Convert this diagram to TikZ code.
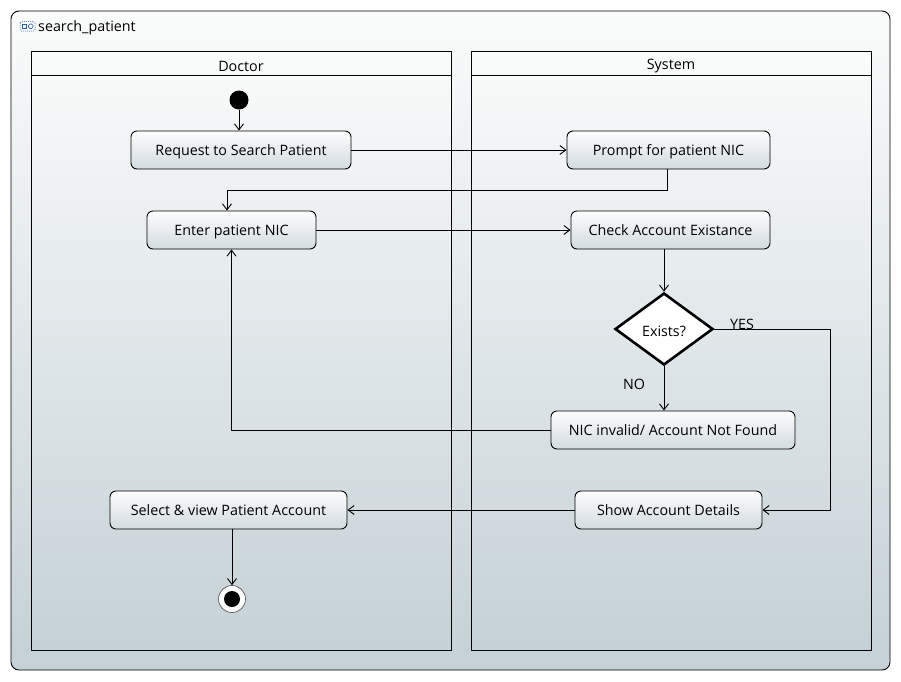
\documentclass[tikz,border=0pt]{standalone}
\usepackage{fontspec}
\setmainfont{Open Sans}
\usetikzlibrary{arrows.meta,shapes.geometric}
\definecolor{bgtop}{RGB}{250,251,251}
\definecolor{bgbot}{RGB}{197,209,214}
\definecolor{acttop}{RGB}{253,253,253}
\definecolor{actbot}{RGB}{210,219,223}
\definecolor{iconblue}{RGB}{40,90,170}
\tikzset{
  txt/.style={font=\fontsize{14.3}{16}\selectfont},
  act/.style={draw=black, rounded corners=6pt, minimum height=38pt, line width=0.9pt,
    top color=acttop, bottom color=actbot, txt, inner xsep=0pt,
    text height=13pt, text depth=2pt},
  flow/.style={draw=black, line width=0.9pt, -{Straight Barb[length=6pt,width=9pt]}},
  lbl/.style={txt, inner sep=0pt}
}
\begin{document}
\begin{tikzpicture}[x=1pt,y=-1pt]
\useasboundingbox (0,0) rectangle (901,681);
% outer frame
\shade[top color=bgtop, bottom color=bgbot, rounded corners=8pt] (11,11) rectangle (890,670);
\draw[line width=0.9pt, rounded corners=8pt] (11,11) rectangle (890,670);
% frame icon and title
\draw[line width=0.5pt, draw=iconblue, dash pattern=on 1pt off 1pt, rounded corners=1.5pt] (20,21.5) rectangle (35,31);
\draw[line width=0.6pt, draw=iconblue] (22,24) rectangle (26.5,28.5);
\draw[line width=0.6pt, draw=iconblue, rounded corners=1.5pt] (28.5,24) rectangle (33,28.5);
\node[anchor=west, lbl] (title) at (38,28) {search\_patient};
% swimlanes
\shade[top color=bgtop, bottom color=bgbot] (31,51) rectangle (451,650);
\draw[line width=0.9pt] (31,51) rectangle (451,650);
\draw[line width=0.9pt] (31,75) -- (451,75);
\node[lbl] (doctor) at (241,66) {Doctor};
\shade[top color=bgtop, bottom color=bgbot] (471,51) rectangle (871,650);
\draw[line width=0.9pt] (471,51) rectangle (871,650);
\draw[line width=0.9pt] (471,75) -- (871,75);
\node[lbl] (system) at (671,66) {System};
% actions
\node[circle, fill=black, minimum size=19pt, inner sep=0pt] (init) at (239,100) {};
\node[act, minimum width=220pt] (req) at (241,150) {Request to Search Patient};
\node[act, minimum width=203pt] (prompt) at (668.5,150) {Prompt for patient NIC};
\node[act, minimum width=169pt] (enter) at (231.5,230) {Enter patient NIC};
\node[act, minimum width=199pt] (check) at (670.5,230) {Check Account Existance};
\node[diamond, draw=black, fill=white, line width=2.6pt, minimum width=98pt, minimum height=72pt,
      inner sep=0pt] (exists) at (664,329) {};
\node[lbl] (existstext) at (664,331) {Exists?};
\node[act, minimum width=244pt] (invalid) at (673,430) {NIC invalid/ Account Not Found};
\node[act, minimum width=187pt] (show) at (668.5,510) {Show Account Details};
\node[act, minimum width=237pt] (select) at (228.5,510) {Select \& view Patient Account};
\node[circle, draw=black!70, fill=white, line width=0.6pt, minimum size=27pt, inner sep=0pt] (final) at (232,599) {};
\node[circle, fill=black, minimum size=16pt, inner sep=0pt] (finaldot) at (final) {};
% connectors
\draw[flow] (init) -- (req.north -| init);
\draw[flow] (req.east) -- (prompt.west);
\draw[flow] (prompt.south -| 667,0) |- (227,190) -- (enter.north -| 227,0);
\draw[flow] (enter.east) -- (check.west);
\draw[flow] (check.south -| exists) -- (exists.north);
\draw[flow] (exists.south) -- (invalid.north -| exists);
\draw[flow] (exists.east) -| (830,510) -- (show.east);
\draw[flow] (invalid.west) -| (enter.south);
\draw[flow] (show.west) -- (select.east);
\draw[flow] (select.south -| final) -- (final.north);
% guard labels
\node[lbl] (yes) at (742,324) {YES};
\node[lbl] (no) at (634,384) {NO};
\end{tikzpicture}
\end{document}
